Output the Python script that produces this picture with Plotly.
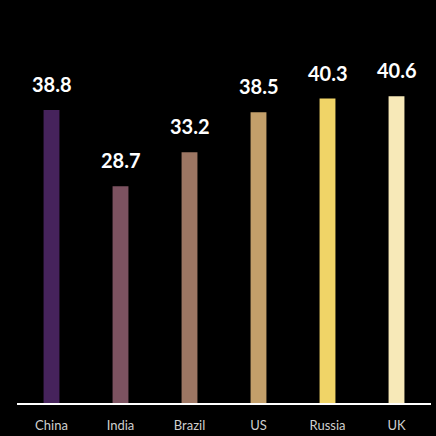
import plotly.graph_objects as go

categories = ["China", "India", "Brazil", "US", "Russia", "UK"]
values = [38.8, 28.7, 33.2, 38.5, 40.3, 40.6]
colors = ["#46235c", "#7c5260", "#9d7663", "#c39f6a", "#f0d467", "#f7e9b8"]

fig = go.Figure()
fig.add_trace(go.Bar(x=categories, y=values, marker=dict(color=colors, line=dict(width=0)),
                     hoverinfo="skip"))
for c, v in zip(categories, values):
    fig.add_annotation(x=c, y=v, text=f"{v:.1f}", showarrow=False, yanchor="bottom",
                       yshift=12, font=dict(family="Lato", size=20, color="white", weight="bold"))

fig.update_layout(
    width=436, height=436,
    paper_bgcolor="black", plot_bgcolor="black",
    margin=dict(l=17, r=5, t=20, b=33),
    bargap=0.77,
    showlegend=False,
    xaxis=dict(showline=True, linecolor="white", linewidth=1.5, showgrid=False,
               tickfont=dict(family="Lato", size=13, color="#cfcfcf"), ticks="",
               ticklabelstandoff=10, automargin=False, fixedrange=True),
    yaxis=dict(range=[0, 50.7], visible=False, showgrid=False, zeroline=False),
)
fig.write_html("out.html")
